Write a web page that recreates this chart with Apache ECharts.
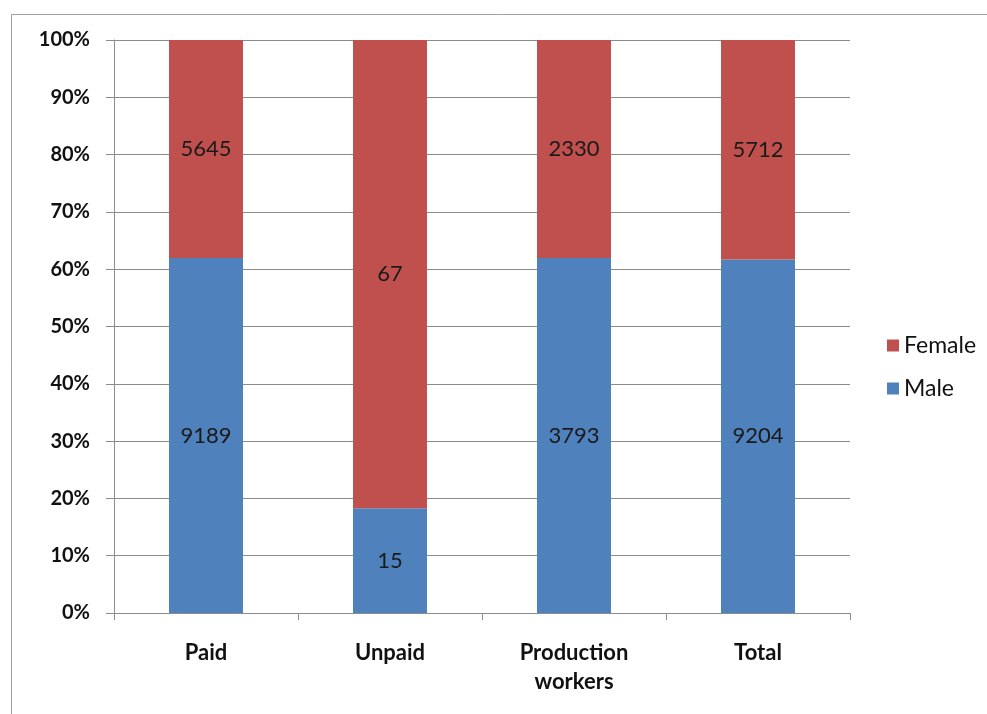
<!DOCTYPE html>
<html>
<head>
<meta charset="utf-8">
<script src="https://cdn.jsdelivr.net/npm/echarts@6/dist/echarts.min.js"></script>
<style>html,body{margin:0;padding:0;background:#fff}#c{width:987px;height:714px}</style>
</head>
<body>
<div id="c"></div>
<script>
var categories = ['Paid', 'Unpaid', 'Production\nworkers', 'Total'];
var maleValues = [9189, 15, 3793, 9204];
var femaleValues = [5645, 67, 2330, 5712];
var yTickLabels = ['0%','10%','20%','30%','40%','50%','60%','70%','80%','90%','100%'];

function share(a, b) {
  return a.map(function (v, i) { return { value: v / (v + b[i]) * 100, raw: v }; });
}
var maleShare = share(maleValues, femaleValues);
var femaleShare = share(femaleValues, maleValues);

var chart = echarts.init(document.getElementById('c'));
var font = 'Lato';
var labelOpt = {
  show: true, position: 'inside', color: '#1a1a1a', fontSize: 22, fontFamily: font,
  formatter: function (p) { return p.data.raw; }
};
chart.setOption({
  animation: false,
  textStyle: { fontFamily: font },
  graphic: [{
    type: 'rect', shape: { x: 11.5, y: 14.5, width: 1200, height: 1000 },
    style: { fill: 'none', stroke: '#a0a0a0', lineWidth: 1 }, silent: true
  }],
  grid: { left: 114, right: 137, top: 40, bottom: 101 },
  legend: {
    orient: 'vertical', left: 887, top: 334, padding: 0, itemWidth: 12, itemHeight: 12, itemGap: 20,
    icon: 'rect',
    textStyle: { fontSize: 23, color: '#111', fontFamily: font },
    data: ['Female', 'Male']
  },
  xAxis: {
    type: 'category', data: categories, boundaryGap: true,
    axisLine: { lineStyle: { color: '#8c8c8c' } },
    axisTick: { show: true, length: 7, lineStyle: { color: '#8c8c8c' } },
    axisLabel: { fontSize: 22, fontWeight: 'bold', color: '#111', margin: 25, lineHeight: 29, fontFamily: font }
  },
  yAxis: {
    type: 'value', min: 0, max: 100, interval: 10,
    axisLine: { show: true, lineStyle: { color: '#8c8c8c' } },
    axisTick: { show: true, length: 8, lineStyle: { color: '#8c8c8c' } },
    splitLine: { lineStyle: { color: '#8c8c8c' } },
    axisLabel: { fontSize: 20, fontWeight: 'bold', color: '#111', margin: 24, fontFamily: font,
      formatter: function (v) { return yTickLabels[Math.round(v / 10)]; } }
  },
  series: [
    { name: 'Male', type: 'bar', stack: 's', barWidth: 74, data: maleShare,
      itemStyle: { color: '#4F81BD' }, label: labelOpt },
    { name: 'Female', type: 'bar', stack: 's', barWidth: 74, data: femaleShare,
      itemStyle: { color: '#C0504D' }, label: labelOpt }
  ]
});
</script>
</body>
</html>
